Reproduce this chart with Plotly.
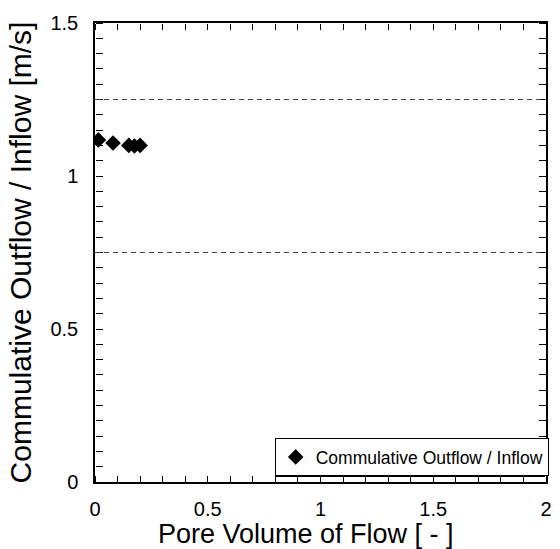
import plotly.graph_objects as go

# Measured points
pore_volume = [0.015, 0.08, 0.15, 0.175, 0.20]
outflow_ratio = [1.118, 1.108, 1.100, 1.098, 1.100]

# Acceptance band limits
band_limits = [0.75, 1.25]

series_name = "Commulative Outflow / Inflow"
x_title = "Pore Volume of Flow [ - ]"
y_title = "Commulative Outflow / Inflow [m/s]"

x_ticks = [0, 0.5, 1, 1.5, 2]
y_ticks = [0, 0.5, 1, 1.5]
x_minor_step = 0.1
y_minor_step = 0.05

FONT = "Arial, 'Liberation Sans', sans-serif"
x_range = [x_ticks[0], x_ticks[-1]]
y_range = [y_ticks[0], y_ticks[-1]]

fig = go.Figure()
fig.add_trace(go.Scatter(
    x=pore_volume, y=outflow_ratio, mode="markers", name=series_name,
    marker=dict(symbol="diamond", size=12, color="black"),
    showlegend=True,
))
# transparent copies so the tick-only frame axes are drawn
for xa, ya in (("x2", "y2"), ("x3", "y3")):
    fig.add_trace(go.Scatter(
        x=pore_volume, y=outflow_ratio, mode="markers", xaxis=xa, yaxis=ya,
        marker=dict(opacity=0), showlegend=False, hoverinfo="skip",
    ))

for lim in band_limits:
    fig.add_hline(y=lim, line=dict(color="#444444", width=1.2, dash="5px,4px"))

# drop shadow behind the legend box
fig.add_shape(type="rect", xref="paper", yref="paper",
              x0=0.4004, x1=0.9978, y0=0.0109, y1=0.0915,
              fillcolor="black", line=dict(width=0), layer="above")

tick_font = dict(family=FONT, size=20, color="black")

# labelled axes with the frame line
fig.update_layout(
    xaxis=dict(
        range=x_range, tickmode="array", tickvals=x_ticks, ticks="",
        showline=True, linecolor="black", linewidth=1.5, mirror=True,
        showgrid=False, zeroline=False, tickfont=tick_font, ticklabelstandoff=8,
    ),
    yaxis=dict(
        range=y_range, tickmode="array", tickvals=y_ticks, ticks="",
        showline=True, linecolor="black", linewidth=1.5, mirror=True,
        showgrid=False, zeroline=False, tickfont=tick_font, ticklabelstandoff=11,
        title=dict(text=y_title, font=dict(family=FONT, size=30, color="black"), standoff=10),
    ),
)

# tick-only axes placed on the frame edges, with ticks pointing into the plot
def tick_axis(rng, vals, minor_step, side, pos, length, over):
    return dict(
        range=rng, tickmode="array", tickvals=vals, overlaying=over,
        side=side, anchor="free", position=pos,
        ticks="outside", ticklen=length, tickwidth=1, tickcolor="black",
        minor=dict(dtick=minor_step, ticks="outside", ticklen=length,
                   tickwidth=1, tickcolor="black", showgrid=False),
        showticklabels=False, showline=False, showgrid=False, zeroline=False,
    )

fig.update_layout(
    xaxis2=tick_axis(x_range, x_ticks, x_minor_step, "top", 0, 6, "x"),
    xaxis3=tick_axis(x_range, x_ticks, x_minor_step, "bottom", 1, 6, "x"),
    yaxis2=tick_axis(y_range, y_ticks, y_minor_step, "right", 0, 7, "y"),
    yaxis3=tick_axis(y_range, y_ticks, y_minor_step, "left", 1, 7, "y"),
)

fig.add_annotation(
    text=x_title, xref="paper", yref="paper", x=0.5, y=0,
    xanchor="center", yanchor="top", xshift=-15, yshift=-35, showarrow=False,
    font=dict(family=FONT, size=27, color="black"),
)

fig.update_layout(
    width=560, height=549,
    margin=dict(l=95, r=8, t=23, b=67),
    paper_bgcolor="white", plot_bgcolor="white",
    font=dict(family=FONT, color="black"),
    legend=dict(
        x=1.006, y=0.013, xanchor="right", yanchor="bottom",
        bgcolor="white", bordercolor="black", borderwidth=1,
        font=dict(family=FONT, size=17.5, color="black"),
    ),
)

fig.write_html("out.html")
